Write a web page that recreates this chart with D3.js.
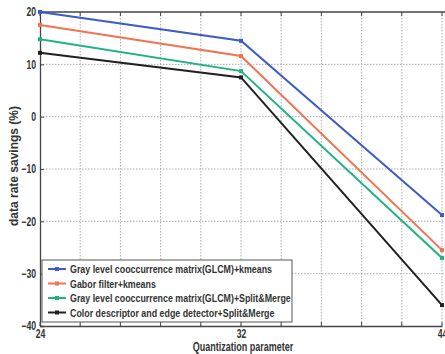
<!DOCTYPE html>
<html><head><meta charset="utf-8">
<script src="https://cdn.jsdelivr.net/npm/d3@7"></script>
<style>body{margin:0;background:#fff;} svg{display:block;}</style>
</head><body>
<script>
const categories = ["24","32","44"];
const yTicks = [20,10,0,-10,-20,-30,-40];
const seriesNames = [
  "Gray level cooccurrence matrix(GLCM)+kmeans",
  "Gabor filter+kmeans",
  "Gray level cooccurrence matrix(GLCM)+Split&Merge",
  "Color descriptor and edge detector+Split&Merge"
];
const seriesColors = ["#3b5cc4","#f07352","#1fb381","#202020"];
const glcmKmeans = [20, 14.5, -18.8];
const gaborKmeans = [17.5, 11.6, -25.5];
const glcmSplit = [14.8, 8.7, -27.0];
const colorSplit = [12.2, 7.5, -36.0];
const seriesValues = [glcmKmeans, gaborKmeans, glcmSplit, colorSplit];

const W = 445, H = 354;
const m = {l:40, t:12};
const font = "'Liberation Sans',Arial,sans-serif";
const svg = d3.select("body").append("svg").attr("width",W).attr("height",H);

function condense(sel, f){
  sel.each(function(){
    const w = this.getComputedTextLength();
    d3.select(this).attr("textLength", w*f).attr("lengthAdjust","spacingAndGlyphs");
  });
}

const x = d3.scalePoint().domain(categories).range([m.l, 442]);
const y = d3.scaleLinear().domain([-40,20]).range([326, m.t]);

// grid
const step = (x("32")-x("24"))/5;
const gridX = d3.range(0, 11).map(i => m.l + i*step);
svg.append("g").selectAll("line").data(gridX.slice(1)).join("line")
  .attr("x1",d=>d).attr("x2",d=>d).attr("y1",y(20)).attr("y2",y(-40))
  .attr("stroke","#999").attr("stroke-width",0.8).attr("stroke-dasharray","1.5,1.5");
svg.append("g").selectAll("line").data(yTicks.slice(1,-1)).join("line")
  .attr("x1",m.l).attr("x2",W).attr("y1",d=>y(d)).attr("y2",d=>y(d))
  .attr("stroke","#999").attr("stroke-width",0.8).attr("stroke-dasharray","1.5,1.5");

// frame
svg.append("line").attr("x1",m.l).attr("x2",W).attr("y1",y(20)).attr("y2",y(20)).attr("stroke","#444").attr("stroke-width",1.3);
svg.append("g").selectAll("line").data(gridX).join("line")
  .attr("x1",d=>d).attr("x2",d=>d).attr("y1",y(-40)).attr("y2",y(-40)-4)
  .attr("stroke","#444");
svg.append("g").selectAll("line").data(gridX).join("line")
  .attr("x1",d=>d).attr("x2",d=>d).attr("y1",y(20)).attr("y2",y(20)+4)
  .attr("stroke","#444");

const yAxis = svg.append("g").attr("transform",`translate(${m.l},0)`)
  .call(d3.axisLeft(y).tickValues(yTicks).tickSize(-4).tickPadding(4).tickFormat(d3.format("d")));
yAxis.select(".domain").attr("stroke","#444").attr("stroke-width",1.3);
yAxis.selectAll("text").attr("font-family",font).attr("font-size",12).attr("font-weight","bold").attr("fill","#333");
yAxis.selectAll(".tick line").attr("stroke","#444");
condense(yAxis.selectAll("text"), 0.72);

const xAxis = svg.append("g").attr("transform",`translate(0,${y(-40)})`)
  .call(d3.axisBottom(x).tickSize(0).tickPadding(3));
xAxis.select(".domain").attr("stroke","#444").attr("stroke-width",1.3);
xAxis.selectAll("text").attr("font-family",font).attr("font-size",12).attr("font-weight","bold").attr("fill","#333");
condense(xAxis.selectAll("text"), 0.72);

// lines
const line = d3.line().x((d,i)=>x(categories[i])).y(d=>y(d));
seriesValues.forEach((vals,si)=>{
  svg.append("path").datum(vals).attr("d",line).attr("fill","none")
    .attr("stroke",seriesColors[si]).attr("stroke-width",2);
  svg.append("g").selectAll("rect").data(vals).join("rect")
    .attr("x",(d,i)=>x(categories[i])-2).attr("y",d=>y(d)-2)
    .attr("width",4).attr("height",4).attr("fill",seriesColors[si]);
});

// axis labels
const xl = svg.append("text").attr("x",243).attr("y",351).attr("text-anchor","middle")
  .attr("font-family",font).attr("font-weight","bold").attr("font-size",12).attr("fill","#333")
  .text("Quantization parameter");
condense(xl, 0.75);
const yl = svg.append("text").attr("transform","translate(18,166) rotate(-90)").attr("text-anchor","middle")
  .attr("font-family",font).attr("font-weight","bold").attr("font-size",12).attr("fill","#333")
  .text("data rate savings (%)");
condense(yl, 1.0);

// legend
const lg = svg.append("g");
lg.append("rect").attr("x",42).attr("y",260).attr("width",250).attr("height",62)
  .attr("fill","#fff").attr("stroke","#555").attr("stroke-width",1);
seriesNames.forEach((n,i)=>{
  const yy = 269 + i*14.5;
  lg.append("line").attr("x1",48).attr("x2",66).attr("y1",yy).attr("y2",yy)
    .attr("stroke",seriesColors[i]).attr("stroke-width",2);
  lg.append("rect").attr("x",55).attr("y",yy-2).attr("width",4).attr("height",4).attr("fill",seriesColors[i]);
  const t = lg.append("text").attr("x",70).attr("y",yy+4).attr("font-family",font).attr("font-weight","bold")
    .attr("font-size",11.5).attr("fill","#333").text(n);
  condense(t, 0.77);
});
</script>
</body></html>
